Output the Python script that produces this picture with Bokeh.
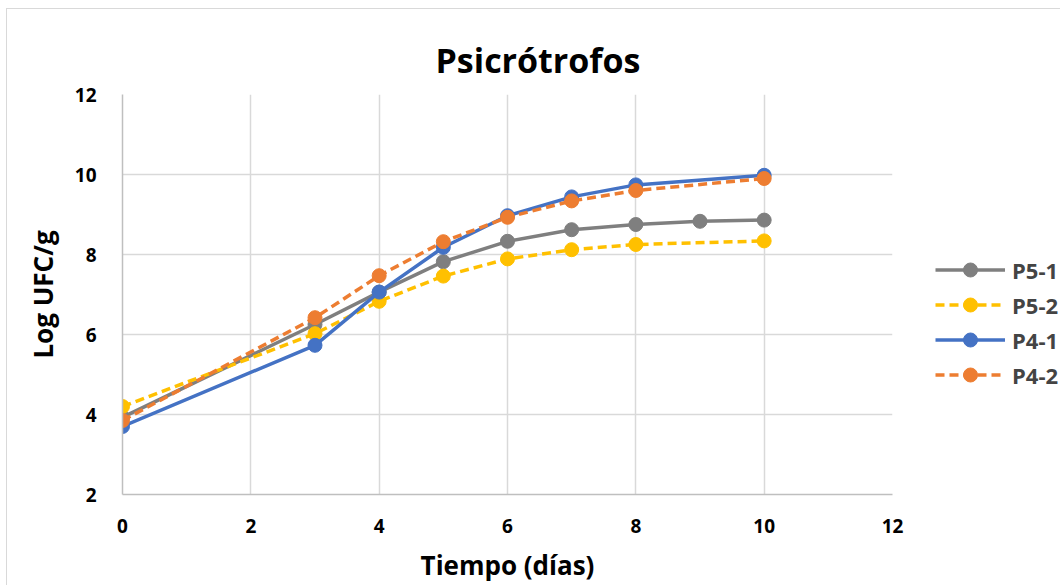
from bokeh.plotting import figure
from bokeh.models import Range1d, FixedTicker, Legend, LegendItem
from bokeh.embed import file_html
from bokeh.resources import INLINE

# Data
x_p51 = [0, 3, 4, 5, 6, 7, 8, 9, 10]
y_p51 = [3.93, 6.25, 7.06, 7.82, 8.33, 8.62, 8.75, 8.83, 8.86]
x_p52 = [0, 3, 4, 5, 6, 7, 8, 10]
y_p52 = [4.2, 6.02, 6.83, 7.46, 7.89, 8.12, 8.25, 8.34]
x_p41 = [0, 3, 4, 5, 6, 7, 8, 10]
y_p41 = [3.7, 5.73, 7.06, 8.18, 8.97, 9.44, 9.74, 9.98]
x_p42 = [0, 3, 4, 5, 6, 7, 8, 10]
y_p42 = [3.85, 6.42, 7.47, 8.32, 8.93, 9.34, 9.6, 9.9]
x_ticks = [0, 2, 4, 6, 8, 10, 12]
y_ticks = [2, 4, 6, 8, 10, 12]

FONT = "Open Sans"

p = figure(frame_width=770, frame_height=400, output_backend="svg", toolbar_location=None,
           x_range=Range1d(0, 12), y_range=Range1d(2, 12),
           min_border_left=115, min_border_right=0, min_border_top=85, min_border_bottom=80)
p.styles = {"margin-left": "6px", "margin-top": "8px",
            "border-left": "1px solid #d9d9d9", "border-top": "1px solid #d9d9d9"}
p.outline_line_color = None
p.background_fill_color = "white"
p.border_fill_color = "white"

p.title.text = "Psicrótrofos"
p.title.align = "left"
p.title.offset = 313
p.title.text_font = FONT
p.title.text_font_style = "bold"
p.title.text_font_size = "34px"
p.title.text_color = "black"
p.title.standoff = 24

for ax, ticks in ((p.xaxis, x_ticks), (p.yaxis, y_ticks)):
    ax.ticker = FixedTicker(ticks=ticks)
    ax.major_tick_line_color = None
    ax.minor_tick_line_color = None
    ax.axis_line_color = "#bfbfbf"
    ax.axis_line_width = 1.5
    ax.major_label_text_font = FONT
    ax.major_label_text_font_style = "bold"
    ax.major_label_text_font_size = "19px"
    ax.major_label_text_color = "black"
    ax.axis_label_text_font = FONT
    ax.axis_label_text_font_style = "bold"
    ax.axis_label_text_font_size = "26px"
    ax.axis_label_text_color = "black"

p.xaxis.axis_label = "Tiempo (días)"
p.yaxis.axis_label = "Log UFC/g"
p.xaxis.major_label_standoff = 18
p.yaxis.major_label_standoff = 20
p.xaxis.axis_label_standoff = 11
p.yaxis.axis_label_standoff = 11

p.xgrid.ticker = FixedTicker(ticks=x_ticks)
p.ygrid.ticker = FixedTicker(ticks=y_ticks)
p.grid.grid_line_color = "#d9d9d9"
p.grid.grid_line_width = 1.5

series = [
    ("P5-1", x_p51, y_p51, "#7f7f7f", "solid"),
    ("P5-2", x_p52, y_p52, "#ffc000", "9 5"),
    ("P4-1", x_p41, y_p41, "#4472c4", "solid"),
    ("P4-2", x_p42, y_p42, "#ed7d31", "9 5"),
]
items = []
for name, xs, ys, col, dash in series:
    l = p.line(xs, ys, line_color=col, line_width=3.5, line_dash=dash)
    c = p.scatter(xs, ys, marker="circle", size=14, fill_color=col, line_color=col)
    items.append(LegendItem(label=name, renderers=[l, c]))

legend = Legend(items=items, location=(43, 102), glyph_width=70, glyph_height=35,
                spacing=0, padding=0, margin=0, label_standoff=7,
                label_text_font=FONT, label_text_font_style="bold",
                label_text_font_size="22px", border_line_color=None,
                background_fill_alpha=0)
p.add_layout(legend, "right")

html = file_html(p, INLINE)
html = html.replace("<head>", "<head><style>html,body{overflow:hidden;margin:0;}</style>", 1)
open("out.html", "w").write(html)
